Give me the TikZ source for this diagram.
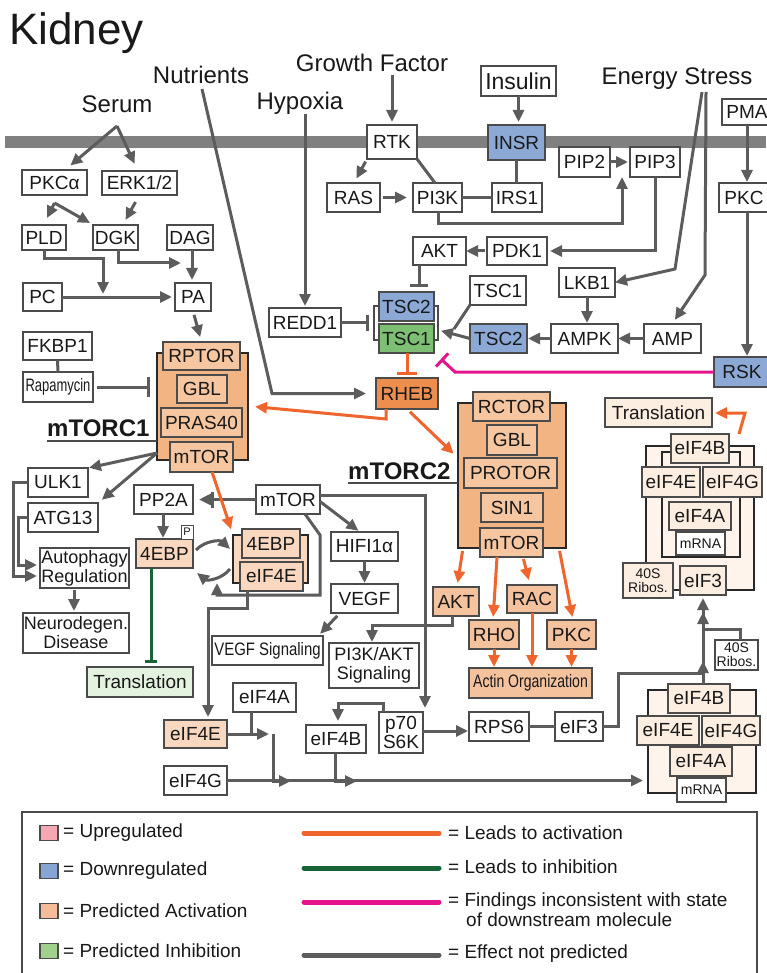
\documentclass[tikz,border=0pt]{standalone}
\usepackage{fontspec}
\usepackage{graphicx}
\setmainfont{Liberation Sans}
\usetikzlibrary{arrows.meta}

\newcommand\fsz[2]{\fontsize{#1}{#2}\selectfont}
% box from its corners: name, x1, y1, x2, y2, style, text
\newcommand\mkbox[7]{\node[#6, minimum width={(#4)-(#2)}, minimum height={(#5)-(#3)}] (#1) at ({((#2)+(#4))/2},{((#3)+(#5))/2}) {#7};}

\definecolor{bline}{RGB}{75,75,75}
\definecolor{txt}{RGB}{25,25,25}
\definecolor{edge}{RGB}{92,92,92}
\definecolor{orng}{RGB}{240,100,45}
\definecolor{grn}{RGB}{25,100,55}
\definecolor{magn}{RGB}{230,20,140}
\definecolor{blueF}{RGB}{140,168,212}
\definecolor{greenF}{RGB}{125,192,115}
\definecolor{rhebF}{RGB}{238,142,78}
\definecolor{cplxF}{RGB}{242,180,130}
\definecolor{innerF}{RGB}{246,198,160}
\definecolor{liteF}{RGB}{250,216,192}
\definecolor{liteB}{RGB}{245,194,158}
\definecolor{trF}{RGB}{253,238,226}
\definecolor{trL}{RGB}{254,244,236}
\definecolor{transG}{RGB}{228,242,224}
\definecolor{cline}{RGB}{40,40,40}
\definecolor{memb}{RGB}{128,128,128}
\definecolor{legPink}{RGB}{245,168,178}
\definecolor{legBlue}{RGB}{135,165,212}
\definecolor{legOr}{RGB}{245,187,155}
\definecolor{legGr}{RGB}{160,208,140}

\begin{document}
\begin{tikzpicture}[x=1pt,y=-1pt,
  >={Triangle[length=12pt,width=11pt]},
  nb/.style={draw=bline, line width=1.4pt, fill=white, inner sep=0pt, outer sep=0pt,
             text=txt, font=\fsz{19}{20}, align=center},
  big/.style={nb, font=\fsz{23}{24}},
  down/.style={nb, fill=blueF},
  inhb/.style={nb, fill=greenF},
  rhebb/.style={nb, fill=rhebF},
  innerb/.style={nb, fill=innerF},
  lite/.style={nb, fill=liteF},
  liteb/.style={nb, fill=liteB},
  two/.style={nb, font=\fsz{18}{19}},
  twotight/.style={nb, font=\fsz{19}{16.5}},
  tr/.style={nb, fill=trF},
  trsmall/.style={nb, fill=white, font=\fsz{14}{14}},
  trsmallF/.style={nb, fill=trF, font=\fsz{14}{14}},
  tiny/.style={nb, line width=1pt, font=\fsz{11}{11}},
  greenbox/.style={nb, fill=transG},
  cplx/.style={draw=cline, line width=2.6pt, fill=cplxF, inner sep=0pt, outer sep=0pt},
  tcplx/.style={cplx, fill=trL},
  lab/.style={anchor=base, inner sep=0pt, text=txt, font=\fsz{24}{24}},
  cname/.style={anchor=base west, inner sep=0pt, text=txt, font=\fsz{24}{24}\bfseries},
  ge/.style={draw=edge, line width=3pt},
  oe/.style={draw=orng, line width=3pt},
  gne/.style={draw=grn, line width=3pt},
  me/.style={draw=magn, line width=3pt},
  legt/.style={anchor=west, inner sep=0pt, text=txt, font=\fsz{19}{20}}
]
\useasboundingbox (0,0) rectangle (766,973);
\fill[white] (0,0) rectangle (766,973);

% cell membrane
\fill[memb] (5,136) rectangle (766,148);

% title and stimuli
\node[anchor=base west, inner sep=0pt, text=txt, font=\fsz{44}{44}] (title) at (9,45) {Kidney};
\node[lab] (nutr) at (201,84) {Nutrients};
\node[lab] (serum) at (117,113) {Serum};
\node[lab] (hyp) at (300,110) {Hypoxia};
\node[lab] (gf) at (372,72) {Growth Factor};
\node[lab] (es) at (677,85) {Energy Stress};
\mkbox{Insulin}{481}{66}{556}{96}{big}{Insulin}

% receptors and upstream kinases
\mkbox{RTK}{367}{125}{417}{159}{nb}{RTK}
\mkbox{INSR}{488}{125}{545}{160}{down}{INSR}
\mkbox{PMA}{722}{99}{772}{125}{nb}{PMA}
\mkbox{PKCr}{719}{183}{769}{212}{nb}{PKC}
\mkbox{RSK}{714}{357}{770}{387}{down}{RSK}
\mkbox{RAS}{327}{183}{380}{212}{nb}{RAS}
\mkbox{PI3K}{413}{183}{462}{212}{nb}{PI3K}
\mkbox{IRS1}{492}{183}{542}{212}{nb}{IRS1}
\mkbox{PIP2}{559}{147}{610}{177}{nb}{PIP2}
\mkbox{PIP3}{630}{147}{680}{177}{nb}{PIP3}
\mkbox{AKTt}{413}{237}{466}{265}{nb}{AKT}
\mkbox{PDK1}{487}{237}{547}{265}{nb}{PDK1}
\mkbox{LKB1}{559}{268}{615}{297}{nb}{LKB1}
\mkbox{AMPK}{551}{324}{618}{353}{nb}{AMPK}
\mkbox{AMP}{644}{324}{701}{353}{nb}{AMP}
\mkbox{TSC1r}{470}{276}{526}{305}{nb}{TSC1}
\mkbox{TSC2r}{470}{324}{527}{353}{down}{TSC2}
\mkbox{REDD}{269}{308}{341}{337}{nb}{REDD1}

% TSC complex
\draw[draw=bline, line width=2pt] (374,306) rectangle (438,340);
\mkbox{TSC2}{379}{292}{434}{321}{down}{TSC2}
\mkbox{TSC1}{379}{324}{434}{353}{inhb}{TSC1}
\mkbox{RHEB}{376}{378}{438}{409}{rhebb}{RHEB}

% left column
\mkbox{PKCa}{22}{170}{87}{195}{nb}{PKCα}
\mkbox{ERK}{102}{171}{177}{195}{nb}{ERK1/2}
\mkbox{PLD}{22}{225}{66}{250}{nb}{PLD}
\mkbox{DGK}{93}{225}{138}{250}{nb}{DGK}
\mkbox{DAG}{167}{225}{213}{250}{nb}{DAG}
\mkbox{PC}{23}{283}{62}{311}{nb}{PC}
\mkbox{PA}{175}{283}{211}{311}{nb}{PA}
\mkbox{FKBP}{23}{332}{92}{360}{nb}{FKBP1}
\mkbox{Rapa}{23}{372}{93}{402}{nb}{\fsz{18}{18}\scalebox{0.72}[1]{Rapamycin}}

% mTORC1
\mkbox{C1}{157}{353}{248}{460}{cplx}{}
\mkbox{RPTOR}{163}{342}{240}{370}{innerb}{RPTOR}
\mkbox{GBLa}{177}{375}{227}{403}{innerb}{GBL}
\mkbox{PRAS}{161}{408}{242}{437}{innerb}{PRAS40}
\mkbox{mTORa}{170}{442}{233}{472}{innerb}{mTOR}
\node[cname] (C1lbl) at (47,436) {mTORC1};
\draw[draw=bline, line width=2pt] (C1lbl.base west |- 0,441) -- (C1.west |- 0,441);

\mkbox{ULK1}{28}{468}{88}{497}{nb}{ULK1}
\mkbox{ATG13}{28}{503}{98}{532}{nb}{ATG13}
\mkbox{Auto}{40}{548}{129}{588}{two}{Autophagy\\Regulation}
\mkbox{Neuro}{23}{613}{129}{653}{two}{Neurodegen.\\Disease}
\mkbox{PP2A}{134}{485}{193}{514}{nb}{PP2A}
\mkbox{EBP}{136}{539}{193}{568}{lite}{4EBP}
\mkbox{Pbox}{181}{525}{193}{539}{tiny}{P}

% 4EBP / eIF4E complex
\mkbox{C4}{233}{535}{308}{583}{cplx, fill=liteF}{}
\mkbox{EBPc}{242}{529}{300}{558}{lite}{4EBP}
\mkbox{E4Ec}{240}{562}{303}{591}{lite}{eIF4E}

\mkbox{Transl}{87}{667}{193}{697}{greenbox}{Translation}
\mkbox{E4Eb}{164}{720}{227}{748}{lite}{eIF4E}
\mkbox{E4Ab}{233}{683}{296}{712}{nb}{eIF4A}
\mkbox{E4Gb}{164}{766}{227}{795}{nb}{eIF4G}

% mTORC2
\mkbox{C2}{458}{403}{566}{548}{cplx}{}
\mkbox{RCTOR}{473}{392}{550}{421}{innerb}{RCTOR}
\mkbox{GBLb}{487}{425}{537}{455}{innerb}{GBL}
\mkbox{PROTOR}{464}{458}{557}{488}{innerb}{PROTOR}
\mkbox{SIN1}{481}{493}{543}{522}{innerb}{SIN1}
\mkbox{mTORb}{480}{528}{543}{557}{innerb}{mTOR}
\node[cname] (C2lbl) at (348,479) {mTORC2};
\draw[draw=bline, line width=2pt] (C2lbl.base west |- 0,483) -- (C2.west |- 0,483);

% middle
\mkbox{mTORw}{256}{485}{320}{514}{nb}{mTOR}
\mkbox{HIF}{331}{532}{398}{561}{nb}{HIFI1α}
\mkbox{VEGF}{331}{584}{398}{613}{nb}{VEGF}
\mkbox{VEGFs}{212}{636}{323}{665}{nb}{\fsz{18}{18}\scalebox{0.83}[1]{VEGF Signaling}}
\mkbox{PIAKT}{329}{643}{419}{688}{two}{PI3K/AKT\\Signaling}
\mkbox{AKTm}{433}{587}{479}{616}{liteb}{AKT}
\mkbox{RHO}{469}{620}{519}{649}{liteb}{RHO}
\mkbox{RAC}{507}{585}{557}{613}{liteb}{RAC}
\mkbox{PKCo}{547}{620}{596}{649}{liteb}{PKC}
\mkbox{Actin}{469}{668}{592}{698}{liteb}{\fsz{18}{18}\scalebox{0.78}[1]{Actin Organization}}
\mkbox{E4Bb}{306}{725}{366}{753}{nb}{eIF4B}
\mkbox{p70}{379}{712}{423}{753}{twotight}{p70\\S6K}
\mkbox{RPS6}{469}{712}{529}{741}{nb}{RPS6}
\mkbox{E3b}{555}{712}{603}{741}{nb}{eIF3}

% translation complex, lower
\mkbox{Cb}{648}{690}{756}{793}{tcplx}{}
\mkbox{Bb4B}{668}{684}{730}{713}{tr}{eIF4B}
\mkbox{Bb4E}{637}{716}{699}{745}{tr}{eIF4E}
\mkbox{Bb4G}{702}{716}{760}{745}{tr}{eIF4G}
\mkbox{Bb4A}{670}{747}{732}{776}{tr}{eIF4A}
\mkbox{BbRNA}{677}{778}{726}{802}{trsmall}{mRNA}
\mkbox{R40b}{715}{640}{758}{670}{trsmall}{40S\\Ribos.}

% translation complex, upper
\mkbox{Ct}{646}{446}{754}{590}{tcplx}{}
\mkbox{Cti}{662}{452}{740}{557}{tcplx}{}
\mkbox{Tt4B}{671}{434}{729}{463}{tr}{eIF4B}
\mkbox{Tt4E}{642}{467}{700}{497}{tr}{eIF4E}
\mkbox{Tt4G}{703}{467}{762}{497}{tr}{eIF4G}
\mkbox{Tt4A}{669}{502}{731}{530}{tr}{eIF4A}
\mkbox{TtRNA}{676}{532}{725}{555}{trsmall}{mRNA}
\mkbox{R40t}{623}{563}{673}{598}{trsmallF}{40S\\Ribos.}
\mkbox{Tt3}{680}{566}{726}{595}{tr}{eIF3}
\mkbox{TranslT}{605}{398}{712}{427}{tr}{Translation}

% ---------------- connectors ----------------
\coordinate (sa) at ([yshift=-13pt]serum.base);
\draw[ge,->,shorten >=7pt] (sa) -- (65,0 |- PKCa.north);
\draw[ge,->,shorten >=8pt] (sa) -- (138,0 |- ERK.north);
\draw[ge,->] ([yshift=-8pt]PKCa.south) -- ([xshift=3pt,yshift=7pt]PLD.north);
\draw[ge,->] ([yshift=-8pt]PKCa.south) -- ([xshift=-3pt,yshift=2pt]DGK.north west);
\draw[ge,->] ([xshift=-4pt,yshift=-7pt]ERK.south) -- ([xshift=10pt,yshift=5pt]DGK.north);
\draw[ge,->] (PLD.south) |- (103,259) -- (103,294);
\draw[ge,->] (118,0 |- DGK.south) |- (181,263);
\draw[ge,->,shorten >=3pt] (192,0 |- DAG.south) -- (192,0 |- PA.north);
\draw[ge,->,shorten >=3pt] (PC.east) -- (PA.west);
\draw[ge,->,shorten <=4pt,shorten >=5pt] (PA.south) -- (RPTOR.north);
\draw[ge] (FKBP.south) -- (Rapa.north);
\draw[ge,-{Bar[width=20pt]},shorten <=4pt,shorten >=7pt] (Rapa.east) -- (C1.west |- Rapa.east);

\draw[ge,->,shorten >=10pt] ([xshift=1pt,yshift=-5pt]nutr.base) -- (272,0 |- RHEB.west) -- (RHEB.west);
\draw[ge,->,shorten >=2pt] ([xshift=5pt,yshift=-4pt]hyp.base) -- (305,0 |- REDD.north);
\draw[ge,->,shorten >=3pt] ([xshift=20pt,yshift=-3pt]gf.base) -- (RTK.north);
\draw[ge,->,shorten >=3pt] (Insulin.south) -- (Insulin.south |- INSR.north);
\draw[ge,->,shorten <=3pt,shorten >=5pt] (RTK.south west) -- (354,0 |- RAS.north);
\draw[ge] (RTK.south east) -- (435,0 |- PI3K.north);
\draw[ge,->,shorten <=3pt,shorten >=6pt] (RAS.east) -- (PI3K.west);
\draw[ge] (PI3K.east) -- (IRS1.west);
\draw[ge] (INSR.south) -- (INSR.south |- IRS1.north);
\draw[ge,->] (438,0 |- PI3K.south) |- (622,224) -- (622,0 |- PIP2.south);
\draw[ge,->,shorten >=2pt] (PIP2.east) -- (PIP3.west);
\draw[ge,->,shorten >=3pt] (655,0 |- PIP3.south) |- (PDK1.east);
\draw[ge,->,shorten <=2pt] (PDK1.west) -- (AKTt.east);
\draw[ge,-{Bar[width=18pt]},shorten >=5pt] (419,0 |- AKTt.south) -- (419,0 |- TSC2.north);
\draw[ge,-{Bar[width=16pt]},shorten >=5pt] (REDD.east) -- (374,0 |- REDD.east);
\draw[ge] (TSC1r.south west) -- (454,329);
\draw[ge,->,shorten >=3pt] (TSC2r.west) -- (438,330);
\draw[ge,->,shorten >=1pt] (AMPK.west) -- (TSC2r.east);
\draw[ge,->,shorten >=1pt] (LKB1.south) -- (LKB1.south |- AMPK.north);
\draw[ge,->] (AMP.west) -- (AMPK.east);
\draw[ge,->] ([xshift=25pt,yshift=-7pt]es.base) -- (675,269) -- (LKB1.east);
\draw[ge,->,shorten >=5pt] ([xshift=29pt,yshift=-7pt]es.base) -- (705,275) -- (672,0 |- AMP.north);
\draw[ge,->,shorten >=1pt] (747,0 |- PMA.south) -- (747,0 |- PKCr.north);
\draw[ge,->,shorten >=1pt] (747,0 |- PKCr.south) -- (747,0 |- RSK.north);
\draw[me,-{Bar[width=18pt]}] (RSK.west) -- (455,372) -- (441,359);
\draw[oe,-{Bar[width=20pt]},shorten >=3pt] (407,0 |- TSC1.south) -- (407,0 |- RHEB.north);
\draw[oe,->,shorten >=7pt] (386,0 |- RHEB.south) -- (386,419) -- (C1.east |- 0,406);
\draw[oe,->,shorten <=4pt,shorten >=6pt] (RHEB.south) -- (C2.west |- 0,458);

\draw[ge,->,shorten >=1pt] (C1.west |- 0,453) -- (ULK1.north east);
\draw[ge,->,shorten >=5pt] (C1.west |- 0,453) -- (ATG13.north east);
\draw[ge,->,shorten >=3pt] (ULK1.west) -| (13,576) -- (Auto.west |- 0,576);
\draw[ge,->,shorten >=3pt] (ATG13.west) -| (18,565) -- (Auto.west |- 0,565);
\draw[ge,->,shorten >=2pt,shorten <=2pt] (74,0 |- Auto.south) -- (74,0 |- Neuro.north);
\draw[ge,-{Bar[width=16pt] Triangle[length=12pt,width=11pt,sep=2pt]},shorten >=4pt] (mTORw.west) -- (PP2A.east);
\draw[ge,->,shorten >=1pt] (163,0 |- PP2A.south) -- (163,0 |- EBP.north);
\draw[oe,->,shorten >=6pt] (212,0 |- mTORa.south) -- (C4.north west);
\draw[ge,->] ([xshift=3pt]EBP.east |- 0,550) to[bend left=45] ([xshift=-3pt]C4.west |- 0,549);
\draw[ge,->] ([xshift=-3pt]C4.west |- 0,569) to[bend left=45] ([xshift=4pt]EBP.east |- 0,573);
\draw[gne,-{Bar[width=12pt]},shorten >=4pt] (151,0 |- EBP.south) -- (151,0 |- Transl.north);
\draw[ge,->] (305,0 |- mTORw.south) -- (320,535) -- (320,595) -- (217,595) -- (217,583);
\draw[ge,->,shorten >=3pt] (247,0 |- E4Ec.south) -- (247,608) -- (208,608) -- (208,0 |- E4Eb.north);
\draw[ge,->,shorten >=2pt] ([yshift=-2pt]mTORw.east) -- (360,0 |- HIF.north);
\draw[ge,->,shorten >=1pt] (HIF.south) -- (VEGF.north);
\draw[ge,->,shorten <=4pt,shorten >=3pt] (340,0 |- VEGF.south) -- (318,0 |- VEGFs.north);
\draw[ge,->,shorten >=4pt] (mTORw.east |- 0,495) -- (425,495) -- (425,0 |- p70.north);
\draw[oe,->,shorten <=3pt,shorten >=4pt] (463,0 |- C2.south) -- (457,0 |- AKTm.north);
\draw[oe,->,shorten >=3pt] (497,0 |- mTORb.south) -- (493,0 |- RHO.north);
\draw[oe,->,shorten <=2pt,shorten >=5pt] (523,0 |- mTORb.south) -- (530,0 |- RAC.north);
\draw[oe,->,shorten <=3pt,shorten >=3pt] (559,0 |- C2.south) -- (573,0 |- PKCo.north);
\draw[oe,->,shorten >=1pt] (RHO.south) -- (RHO.south |- Actin.north);
\draw[oe,->,shorten >=1pt] (RAC.south) -- (RAC.south |- Actin.north);
\draw[oe,->,shorten >=1pt] (PKCo.south) -- (PKCo.south |- Actin.north);
\draw[ge,->,shorten >=1pt] (452,0 |- AKTm.south) |- (372,625) -- (372,0 |- PIAKT.north);
\draw[ge,->,shorten >=4pt] (383,0 |- p70.north) |- (338,703) -- (338,0 |- E4Bb.north);
\draw[ge,->,shorten >=1pt] (p70.east |- 0,731) -- (RPS6.west |- 0,731);
\draw[ge] (RPS6.east) -- (E3b.west);
\draw[ge,->,shorten >=3pt] (E3b.east) -| (618,673) -| (703,0 |- Tt3.south);
\draw[ge,->] (703,0 |- Bb4B.north) -- (703,661);
\draw[ge,->] (740,0 |- R40b.north) |- (703,629) -- (703,612);
\draw[oe,->,shorten >=3pt] (739,0 |- Tt4B.north) -- (745,413) -- (TranslT.east |- 0,413);
\draw[ge,->] (E4Eb.east) -- (269,0 |- E4Eb.east);
\draw[ge] (251,0 |- E4Ab.south) -- (251,0 |- E4Eb.east);
\draw[ge,->] (273,0 |- E4Eb.east) |- (291,781);
\draw[ge,->,shorten >=5pt] (E4Gb.east) -- (Cb.west |- E4Gb.east);
\draw[ge,->] (335,0 |- E4Bb.south) |- (357,781);

% ---------------- legend ----------------
\draw[draw=bline, line width=1.3pt] (22,976) -- (22,812) -- (757,812) -- (757,976);
\foreach \yy/\cc/\tt in {833/legPink/Upregulated, 871/legBlue/Downregulated,
                         911/legOr/Predicted Activation, 951/legGr/Predicted Inhibition}{
  \draw[draw=bline, line width=1.1pt, fill=\cc] (40,\yy-7.5) rectangle (58,\yy+7.5);
  \node[legt] at (63,\yy) {= \tt};
}
\draw[draw=orng, line width=5pt, line cap=round] (304,833) -- (439,833);
\draw[draw=grn, line width=5pt, line cap=round] (304,868) -- (439,868);
\draw[draw=magn, line width=5pt, line cap=round] (304,902) -- (439,902);
\draw[draw=edge, line width=5pt, line cap=round] (304,955) -- (439,955);
\node[legt] at (448,833) {= Leads to activation};
\node[legt] at (448,867) {= Leads to inhibition};
\node[legt] at (448,902) {= Findings inconsistent with state};
\node[legt] at (466,920) {of downstream molecule};
\node[legt] at (448,954) {= Effect not predicted};
\end{tikzpicture}
\end{document}
